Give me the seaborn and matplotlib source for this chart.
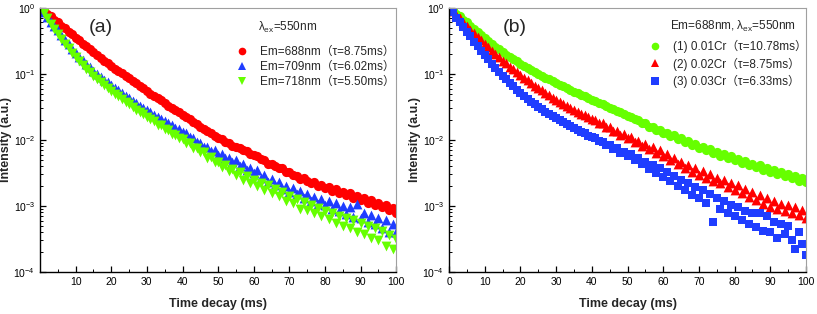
import numpy as np
import pandas as pd
import matplotlib
matplotlib.use("Agg")
import matplotlib.pyplot as plt
from matplotlib.lines import Line2D
from matplotlib.ticker import MultipleLocator, LogLocator, NullFormatter
import seaborn as sns

# time axis (ms), one reading per ms
time_ms = np.arange(0, 101)

# panel (a): different emission wavelengths, lambda_ex = 550 nm
em688 = [1.0, 0.912, 0.813, 0.741, 0.661, 0.603, 0.537, 0.490, 0.437, 0.398,
         0.355, 0.324, 0.288, 0.263, 0.234, 0.214, 0.195, 0.174, 0.158, 0.145,
         0.132, 0.120, 0.112, 0.102, 0.0933, 0.0851, 0.0776, 0.0724, 0.0661, 0.0603,
         0.0550, 0.0501, 0.0468, 0.0427, 0.0398, 0.0363, 0.0331, 0.0309, 0.0282, 0.0263,
         0.0240, 0.0219, 0.0204, 0.0186, 0.0174, 0.0158, 0.0148, 0.0135, 0.0126, 0.0115,
         0.0107, 0.0102, 0.00933, 0.00912, 0.00813, 0.00794, 0.00759, 0.00692, 0.00676, 0.00603,
         0.00589, 0.00562, 0.00513, 0.00501, 0.00437, 0.00437, 0.00407, 0.00372, 0.00372, 0.00324,
         0.00324, 0.00295, 0.00288, 0.00257, 0.00263, 0.00240, 0.00224, 0.00234, 0.00200, 0.00209,
         0.00186, 0.00191, 0.00170, 0.00182, 0.00155, 0.00162, 0.00145, 0.00155, 0.00132, 0.00141,
         0.00123, 0.00132, 0.00112, 0.00123, 0.00105, 0.00112, 0.000955, 0.00105, 0.000871, 0.000933,
         0.000794]
em709 = [1.0, 0.851, 0.724, 0.617, 0.525, 0.457, 0.389, 0.331, 0.282, 0.240,
         0.209, 0.182, 0.162, 0.141, 0.126, 0.112, 0.100, 0.0912, 0.0813, 0.0741,
         0.0676, 0.0617, 0.0562, 0.0513, 0.0468, 0.0427, 0.0389, 0.0363, 0.0331, 0.0309,
         0.0282, 0.0263, 0.0240, 0.0224, 0.0204, 0.0191, 0.0178, 0.0166, 0.0151, 0.0145,
         0.0132, 0.0126, 0.0112, 0.0107, 0.00933, 0.00912, 0.00776, 0.00794, 0.00676, 0.00692,
         0.00589, 0.00617, 0.00525, 0.00537, 0.00457, 0.00490, 0.00398, 0.00437, 0.00347, 0.00372,
         0.00316, 0.00347, 0.00269, 0.00295, 0.00229, 0.00257, 0.00209, 0.00234, 0.00182, 0.00200,
         0.00162, 0.00186, 0.00151, 0.00166, 0.00132, 0.00151, 0.00120, 0.00138, 0.00107, 0.00126,
         0.00102, 0.00117, 0.000912, 0.00110, 0.000832, 0.00100, 0.000741, 0.000955, 0.000676, 0.00107,
         0.000661, 0.000794, 0.000562, 0.000724, 0.000525, 0.000661, 0.000468, 0.000603, 0.000398, 0.000525,
         0.000398]
em718 = [1.0, 0.832, 0.692, 0.575, 0.479, 0.407, 0.339, 0.288, 0.245, 0.209,
         0.178, 0.155, 0.135, 0.120, 0.105, 0.0933, 0.0832, 0.0741, 0.0676, 0.0603,
         0.0550, 0.0501, 0.0457, 0.0417, 0.0380, 0.0347, 0.0316, 0.0288, 0.0263, 0.0245,
         0.0224, 0.0204, 0.0195, 0.0170, 0.0166, 0.0145, 0.0141, 0.0123, 0.0120, 0.0105,
         0.0102, 0.00891, 0.00891, 0.00759, 0.00759, 0.00646, 0.00646, 0.00537, 0.00550, 0.00457,
         0.00468, 0.00389, 0.00417, 0.00339, 0.00363, 0.00295, 0.00324, 0.00251, 0.00282, 0.00219,
         0.00251, 0.00200, 0.00224, 0.00174, 0.00204, 0.00158, 0.00182, 0.00141, 0.00162, 0.00120,
         0.00141, 0.00110, 0.00126, 0.000912, 0.00115, 0.000871, 0.00105, 0.000794, 0.000933, 0.000692,
         0.000851, 0.000631, 0.000794, 0.000550, 0.000708, 0.000501, 0.000661, 0.000468, 0.000603, 0.000398,
         0.000550, 0.000372, 0.000501, 0.000331, 0.000457, 0.000302, 0.000417, 0.000251, 0.000363, 0.000219,
         0.000316]

# panel (b): Cr concentration, Em = 688 nm
cr001 = [1.0, 0.912, 0.813, 0.741, 0.661, 0.603, 0.537, 0.479, 0.427, 0.389,
         0.347, 0.316, 0.288, 0.257, 0.234, 0.214, 0.195, 0.182, 0.166, 0.155,
         0.141, 0.132, 0.123, 0.115, 0.107, 0.100, 0.0933, 0.0871, 0.0832, 0.0776,
         0.0724, 0.0676, 0.0646, 0.0603, 0.0575, 0.0537, 0.0513, 0.0479, 0.0457, 0.0427,
         0.0407, 0.0389, 0.0363, 0.0347, 0.0324, 0.0309, 0.0295, 0.0275, 0.0263, 0.0245,
         0.0234, 0.0224, 0.0204, 0.0200, 0.0178, 0.0178, 0.0158, 0.0158, 0.0141, 0.0141,
         0.0129, 0.0129, 0.0115, 0.0117, 0.0102, 0.0105, 0.00933, 0.00955, 0.00832, 0.00871,
         0.00759, 0.00794, 0.00708, 0.00724, 0.00631, 0.00661, 0.00575, 0.00603, 0.00525, 0.00562,
         0.00490, 0.00513, 0.00447, 0.00479, 0.00417, 0.00437, 0.00389, 0.00417, 0.00355, 0.00380,
         0.00331, 0.00355, 0.00309, 0.00324, 0.00282, 0.00302, 0.00263, 0.00282, 0.00240, 0.00263,
         0.00229]
cr002 = [1.0, 0.891, 0.776, 0.692, 0.603, 0.537, 0.468, 0.417, 0.363, 0.324,
         0.282, 0.251, 0.224, 0.200, 0.178, 0.158, 0.145, 0.129, 0.117, 0.105,
         0.0955, 0.0871, 0.0794, 0.0724, 0.0661, 0.0603, 0.0562, 0.0513, 0.0479, 0.0437,
         0.0407, 0.0380, 0.0355, 0.0331, 0.0309, 0.0288, 0.0269, 0.0251, 0.0240, 0.0224,
         0.0209, 0.0200, 0.0182, 0.0178, 0.0155, 0.0155, 0.0138, 0.0138, 0.0117, 0.0123,
         0.0105, 0.0110, 0.00933, 0.00977, 0.00813, 0.00871, 0.00724, 0.00776, 0.00631, 0.00692,
         0.00562, 0.00603, 0.00501, 0.00537, 0.00427, 0.00468, 0.00380, 0.00417, 0.00331, 0.00372,
         0.00295, 0.00339, 0.00269, 0.00302, 0.00240, 0.00269, 0.00219, 0.00245, 0.00191, 0.00224,
         0.00174, 0.00204, 0.00155, 0.00182, 0.00135, 0.00162, 0.00123, 0.00145, 0.00107, 0.00132,
         0.000977, 0.00120, 0.000891, 0.00107, 0.000832, 0.00105, 0.000794, 0.000955, 0.000724, 0.000871,
         0.000661]
cr003 = [1.0, 0.851, 0.708, 0.603, 0.513, 0.437, 0.372, 0.309, 0.263, 0.224,
         0.191, 0.166, 0.141, 0.123, 0.107, 0.0933, 0.0832, 0.0724, 0.0646, 0.0575,
         0.0513, 0.0468, 0.0417, 0.0380, 0.0347, 0.0316, 0.0295, 0.0269, 0.0251, 0.0229,
         0.0214, 0.0200, 0.0186, 0.0174, 0.0162, 0.0151, 0.0141, 0.0132, 0.0126, 0.0115,
         0.0110, 0.0105, 0.00955, 0.00933, 0.00832, 0.00832, 0.00724, 0.00741, 0.00631, 0.00661,
         0.00562, 0.00603, 0.00501, 0.00537, 0.00427, 0.00468, 0.00363, 0.00417, 0.00316, 0.00372,
         0.00275, 0.00331, 0.00240, 0.00288, 0.00200, 0.00251, 0.00174, 0.00219, 0.00148, 0.00191,
         0.00132, 0.00174, 0.00112, 0.00151, 0.000562, 0.00132, 0.000891, 0.00120, 0.000794, 0.00105,
         0.000708, 0.000955, 0.000603, 0.000832, 0.000525, 0.000794, 0.000479, 0.000794, 0.000417, 0.000692,
         0.000398, 0.000575, 0.000331, 0.000525, 0.000380, 0.000501, 0.000302, 0.000224, 0.000398, 0.000263,
         0.000182]

labels_a = ["Em=688nm（τ=8.75ms）", "Em=709nm（τ=6.02ms）", "Em=718nm（τ=5.50ms）"]
labels_b = ["(1) 0.01Cr（τ=10.78ms）", "(2) 0.02Cr（τ=8.75ms）", "(3) 0.03Cr（τ=6.33ms）"]

RED, BLUE, GREEN = "#ff0000", "#1f3dff", "#66ff00"

sns.set_style("ticks")
plt.rcParams["font.family"] = ["Liberation Sans", "Noto Sans CJK SC", "DejaVu Sans"]
plt.rcParams["mathtext.fontset"] = "custom"
plt.rcParams["mathtext.rm"] = "Liberation Sans"
plt.rcParams["mathtext.it"] = "Liberation Sans:italic"


def style_axis(ax, xticks):
    ax.set_yscale("log")
    ax.set_xlim(0, 100)
    ax.set_ylim(1e-4, 1)
    ax.set_xticks(xticks)
    ax.xaxis.set_minor_locator(MultipleLocator(5))
    ax.yaxis.set_major_locator(LogLocator(base=10, numticks=10))
    ax.yaxis.set_minor_locator(LogLocator(base=10, subs=np.arange(2, 10), numticks=10))
    ax.yaxis.set_minor_formatter(NullFormatter())
    ax.tick_params(which="both", direction="in", top=False, right=False, labelsize=7.5,
                   colors="black")
    ax.tick_params(which="major", length=4, width=0.9)
    ax.tick_params(which="minor", length=2, width=0.7)
    for side in ["top", "right"]:
        ax.spines[side].set_color("#a0a0a0")
        ax.spines[side].set_linewidth(0.8)
    for side in ["left", "bottom"]:
        ax.spines[side].set_color("black")
        ax.spines[side].set_linewidth(1.0)
    ax.set_xlabel("Time decay (ms)", fontsize=9, fontweight="bold", labelpad=8)
    ax.set_ylabel("Intensity (a.u.)", fontsize=9, fontweight="bold", labelpad=1)


def draw_panel(ax, series, colors, markers, sizes, labels, header, tag, layout):
    tag_x, head_x, head_y, leg_x, leg_y, spacing = layout
    for ys, col, mk, sz in zip(series, colors, markers, sizes):
        df = pd.DataFrame({"t": time_ms, "I": ys})
        sns.scatterplot(data=df, x="t", y="I", ax=ax, color=col, marker=mk, s=sz,
                        linewidth=0, legend=False)
    handles = [Line2D([], [], linestyle="none", marker=mk, color=col, markersize=5.5,
                      markeredgewidth=0) for col, mk in zip(colors, markers)]
    ax.legend(handles, labels, loc="upper left", bbox_to_anchor=(leg_x, leg_y),
              frameon=False, fontsize=8.5, handletextpad=0.9, labelspacing=spacing,
              handlelength=1.2, borderpad=0, borderaxespad=0)
    ax.text(head_x, head_y, header, transform=ax.transAxes, fontsize=8.5,
            ha="left", va="center")
    ax.text(tag_x, 0.925, tag, transform=ax.transAxes, fontsize=14, ha="center", va="center")


fig = plt.figure(figsize=(8.17, 3.14), dpi=100)
ax_a = fig.add_axes([0.049, 0.134, 0.436, 0.841])
ax_b = fig.add_axes([0.5496, 0.134, 0.437, 0.841])

draw_panel(ax_a, [em688, em709, em718], [RED, BLUE, GREEN], ["o", "^", "v"], [44, 50, 50],
           labels_a, "λ$_{\\mathrm{ex}}$=550nm", "(a)",
           (0.171, 0.612, 0.924, 0.548, 0.856, 0.26))
draw_panel(ax_b, [cr001, cr002, cr003], [GREEN, RED, BLUE], ["o", "^", "s"], [44, 50, 34],
           labels_b, "Em=688nm, λ$_{\\mathrm{ex}}$=550nm", "(b)",
           (0.185, 0.619, 0.928, 0.557, 0.879, 0.38))

style_axis(ax_a, list(range(10, 101, 10)))
style_axis(ax_b, list(range(0, 101, 10)))

fig.savefig("out.png", dpi=100)
